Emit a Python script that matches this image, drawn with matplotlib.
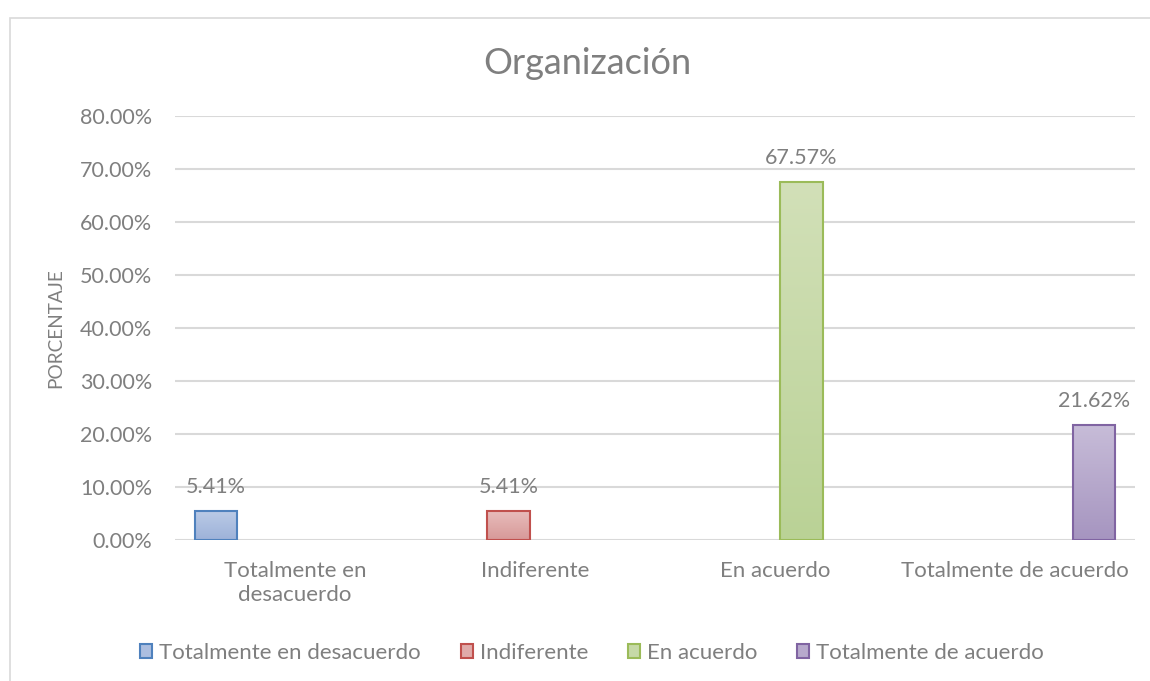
import numpy as np
import matplotlib
matplotlib.use("Agg")
import matplotlib.pyplot as plt
from matplotlib.patches import Patch, Rectangle
from matplotlib.colors import to_rgb

categories = ["Totalmente en\ndesacuerdo", "Indiferente", "En acuerdo", "Totalmente de acuerdo"]
series_names = ["Totalmente en desacuerdo", "Indiferente", "En acuerdo", "Totalmente de acuerdo"]
values = [0.0541, 0.0541, 0.6757, 0.2162]
labels = ["5.41%", "5.41%", "67.57%", "21.62%"]
yticks = [0.0, 0.1, 0.2, 0.3, 0.4, 0.5, 0.6, 0.7, 0.8]

edge_colors = ["#4F81BD", "#C0504D", "#9BBB59", "#8064A2"]
top_colors = ["#BACAE6", "#E8BCBB", "#D2E0B8", "#C7BCD8"]
bot_colors = ["#9DB2D9", "#D79998", "#BAD296", "#A695C0"]

TXT = "#7F7F7F"
GRID = "#D9D9D9"
plt.rcParams['font.family'] = ['Lato', 'DejaVu Sans']

fig = plt.figure(figsize=(11.5, 6.81), dpi=100)
# chart border (top and left only visible)
fig.patches.append(Rectangle((10/1150, -0.1), 1.2, 1 - 17.5/681 + 0.1, transform=fig.transFigure,
                             fill=False, edgecolor="#D9D9D9", lw=1.2, zorder=0))

ax = fig.add_axes([175/1150, 1 - 540/681, 960/1150, 424/681])

n = len(series_names)
width = 0.177
step = 0.219
offsets = (np.arange(n) - (n - 1) / 2) * step
x = np.arange(len(categories))

for i in range(n):
    xc = x[i] + offsets[i]
    h = values[i]
    c1 = np.array(to_rgb(top_colors[i]))
    c2 = np.array(to_rgb(bot_colors[i]))
    t = np.linspace(0, 1, 64)[:, None]
    grad = (c1[None, :] * (1 - t) + c2[None, :] * t)[:, None, :]
    ax.imshow(grad, extent=[xc - width / 2, xc + width / 2, 0, h], aspect='auto',
              origin='upper', zorder=2, interpolation='bilinear')
    ax.bar(xc, h, width=width, facecolor='none', edgecolor=edge_colors[i], lw=1.5, zorder=3)
    ax.annotate(labels[i], (xc, h), xytext=(0, 17.5), textcoords='offset points',
                ha='center', va='center', color=TXT, fontsize=15.5)

ax.set_xlim(-0.5, len(categories) - 0.5)
ax.set_ylim(0, 0.8)
ax.set_yticks(yticks)
ax.set_yticklabels([f"{v*100:.2f}%" for v in yticks])
ax.set_xticks(x)
ax.set_xticklabels(categories, linespacing=1.25)
ax.tick_params(axis='both', length=0, colors=TXT)
ax.tick_params(axis='y', pad=16.5, labelsize=15.5)
ax.tick_params(axis='x', pad=15, labelsize=16)
ax.grid(axis='y', color=GRID, lw=1.5, zorder=0)
ax.set_axisbelow(True)
for s in ax.spines.values():
    s.set_visible(False)
ax.set_ylabel("PORCENTAJE", color=TXT, fontsize=13.7)
ax.yaxis.set_label_coords(-0.115, 0.5)

fig.text(587/1150, 1 - 63/681, "Organización", ha='center', va='center', color=TXT, fontsize=26)

handles = [Patch(facecolor=(np.array(to_rgb(top_colors[i])) + np.array(to_rgb(bot_colors[i]))) / 2,
                 edgecolor=edge_colors[i], lw=1.5) for i in range(n)]
fig.legend(handles, series_names, loc='center', bbox_to_anchor=(592/1150, 1 - 653/681), ncol=4,
           frameon=False, fontsize=16, labelcolor=TXT, handlelength=0.55, handleheight=0.55,
           handletextpad=0.3, columnspacing=1.8)

fig.savefig("out.png", dpi=100)
